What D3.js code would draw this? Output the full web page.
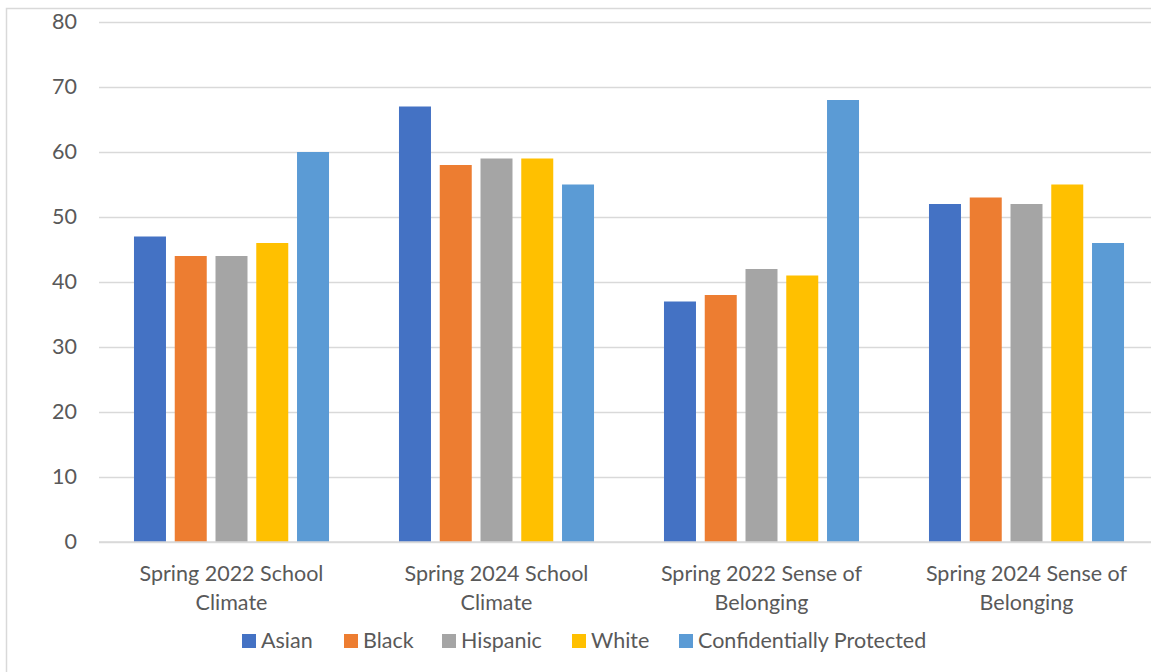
<!DOCTYPE html>
<html>
<head>
<meta charset="utf-8">
<script src="https://cdn.jsdelivr.net/npm/d3@7"></script>
<style>
  html, body { margin: 0; padding: 0; background: #fff; overflow: hidden; }
  svg { display: block; }
  text { font-family: "Lato", "Open Sans", sans-serif; fill: #595959; }
</style>
</head>
<body>
<svg id="chart" width="1151" height="672"></svg>
<script>
// Survey measures by group
const categories = [
  ["Spring 2022 School", "Climate"],
  ["Spring 2024 School", "Climate"],
  ["Spring 2022 Sense of", "Belonging"],
  ["Spring 2024 Sense of", "Belonging"]
];
const seriesNames = ["Asian", "Black", "Hispanic", "White", "Confidentially Protected"];
const seriesColors = ["#4472C4", "#ED7D31", "#A5A5A5", "#FFC000", "#5B9BD5"];
const asian = [47, 67, 37, 52];
const black = [44, 58, 38, 53];
const hispanic = [44, 59, 42, 52];
const white = [46, 59, 41, 55];
const protectedGroup = [60, 55, 68, 46];
const yTicks = [0, 10, 20, 30, 40, 50, 60, 70, 80];

const seriesValues = [asian, black, hispanic, white, protectedGroup];
const catKeys = categories.map(c => c.join(" "));
const FONT = 21.5;

const svg = d3.select("#chart");

// chart frame
svg.append("rect")
  .attr("x", 6.5).attr("y", 8.5)
  .attr("width", 1200).attr("height", 700)
  .attr("fill", "none").attr("stroke", "#d9d9d9").attr("stroke-width", 1.5);

const plotLeft = 99, plotRight = 1159;
const y = d3.scaleLinear().domain([0, 80]).range([542, 22]);
const x0 = d3.scaleBand().domain(catKeys).range([plotLeft, plotRight]);
const bw = x0.bandwidth();
const x1 = d3.scaleBand().domain(seriesNames)
  .range([bw * 0.132, bw * 0.868]).paddingInner(0.215).paddingOuter(0);

// gridlines and value labels
const yAxis = d3.axisLeft(y).tickValues(yTicks).tickSize(-(plotRight - plotLeft)).tickPadding(22);
const gy = svg.append("g").attr("transform", `translate(${plotLeft},0)`).call(yAxis);
gy.select(".domain").remove();
gy.selectAll(".tick line").attr("stroke", "#d9d9d9").attr("stroke-width", 1.5);
gy.selectAll(".tick text")
  .style("font-family", "Lato, 'Open Sans', sans-serif")
  .attr("font-size", FONT).attr("fill", "#595959");

// bars
const groups = svg.append("g").selectAll("g")
  .data(catKeys)
  .join("g")
  .attr("transform", d => `translate(${x0(d)},0)`);

groups.selectAll("rect")
  .data((d, ci) => seriesNames.map((s, si) => ({ s, si, v: seriesValues[si][ci] })))
  .join("rect")
  .attr("x", d => x1(d.s))
  .attr("width", x1.bandwidth())
  .attr("y", d => y(d.v))
  .attr("height", d => y(0) - y(d.v))
  .attr("fill", d => seriesColors[d.si]);

// baseline
svg.append("line")
  .attr("x1", plotLeft).attr("x2", plotRight)
  .attr("y1", y(0)).attr("y2", y(0))
  .attr("stroke", "#d9d9d9").attr("stroke-width", 1.5);

// category labels
const xAxis = svg.append("g");
categories.forEach((lines, i) => {
  const cx = x0(catKeys[i]) + bw / 2;
  const t = xAxis.append("text")
    .attr("text-anchor", "middle")
    .attr("font-size", FONT);
  lines.forEach((ln, j) => {
    t.append("tspan").attr("x", cx).attr("y", 581 + j * 29).text(ln);
  });
});

// legend
const legendX = [242, 344, 442, 572, 679];
const legend = svg.append("g");
seriesNames.forEach((s, i) => {
  legend.append("rect")
    .attr("x", legendX[i]).attr("y", 634)
    .attr("width", 14).attr("height", 14)
    .attr("fill", seriesColors[i]);
  legend.append("text")
    .attr("x", legendX[i] + 19).attr("y", 648)
    .attr("font-size", FONT)
    .text(s);
});
</script>
</body>
</html>
